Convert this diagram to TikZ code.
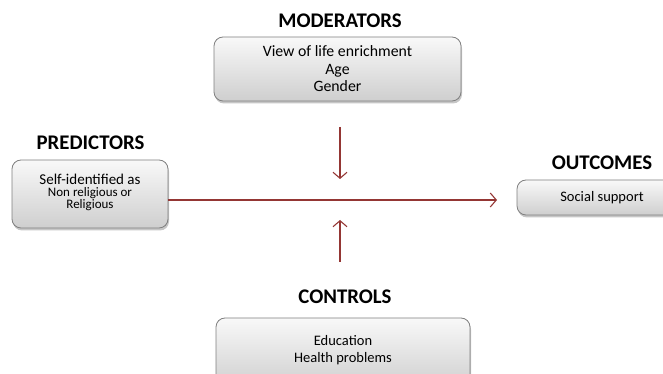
\documentclass[tikz,border=0pt]{standalone}
\usepackage{fontspec}
\setmainfont{Carlito}
\usetikzlibrary{arrows.meta,shadows}
\definecolor{linkred}{HTML}{943634}
\definecolor{boxline}{HTML}{7F7F7F}
\tikzset{
  x=1pt, y=1pt,
  panel/.style={draw=boxline, line width=0.8pt, rounded corners=9pt,
    top color=gray!5, bottom color=gray!38,
    drop shadow={shadow xshift=1pt, shadow yshift=-2.5pt, opacity=0.45},
    align=center, font=\fontsize{14.5}{17}\selectfont, inner sep=0pt},
  heading/.style={font=\bfseries\fontsize{20.8}{22}\selectfont},
  link/.style={draw=linkred, line width=1.1pt,
    -{Straight Barb[length=6pt,width=14pt,line width=1.1pt]}}
}
\begin{document}
\begin{tikzpicture}
\useasboundingbox (0,0) rectangle (663,374);
\clip (0,0) rectangle (663,374);

% headings
\node[heading] (hmod) at (340,353) {MODERATORS};
\node[heading] (hpred) at (90.5,231) {PREDICTORS};
\node[heading] (hout) at (602,211) {OUTCOMES};
\node[heading] (hctl) at (345,77) {CONTROLS};

% boxes
\node[panel, minimum width=247, minimum height=64,
  font=\fontsize{15.8}{17.5}\selectfont] (mod) at (337.5,305)
  {View of life enrichment\\Age\\Gender};
\node[panel, minimum width=156, minimum height=68] (pred) at (90,180) {};
\node[align=center, inner sep=0pt] (predtxt) at (90,182)
  {{\fontsize{15}{16.5}\selectfont Self-identified as}\\
   {\fontsize{13}{16.5}\selectfont Non religious or}\\
   {\fontsize{13}{16.5}\selectfont Religious}};
\node[panel, minimum width=170, minimum height=35] (out) at (602,176.5)
  {Social support};
\node[panel, minimum width=254, minimum height=70] (ctl) at (343,21) {};
\node[align=center, inner sep=0pt, font=\fontsize{14.5}{17}\selectfont]
  (ctltxt) at (343,23.5) {Education\\Health problems};

% connectors
\coordinate (tipout) at (497,174);
\coordinate (modtail) at (340,247);
\coordinate (modtip) at (340,195);
\coordinate (ctltail) at (340,112);
\coordinate (ctltip) at (340,154);

\draw[link] (pred.east |- tipout) -- (tipout);
\draw[link] (modtail) -- (modtip);
\draw[link] (ctltail) -- (ctltip);
\end{tikzpicture}
\end{document}
